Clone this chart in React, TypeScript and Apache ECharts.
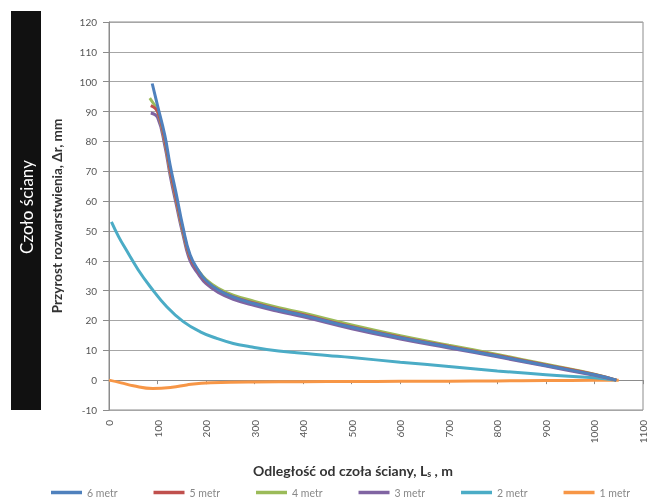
import React, { useEffect, useRef } from "react";
import * as echarts from "echarts";

const X_TICKS = { min: 0, max: 1100, interval: 100 };
const Y_TICKS = { min: -10, max: 120, interval: 10 };

const SERIES_NAMES = ["6 metr", "5 metr", "4 metr", "3 metr", "2 metr", "1 metr"];
const COLORS = ["#4F81BD", "#C0504D", "#9BBB59", "#8064A2", "#4BACC6", "#F79646"];

const X6 = [89, 100, 115, 126, 139, 152, 167, 185, 200, 225, 256, 300, 350, 400, 500, 600, 700, 800, 900, 1000, 1045];
const Y6 = [99.4, 92, 82, 72, 62, 51.5, 42, 36.5, 33.3, 30.2, 27.8, 25.6, 23.5, 21.7, 17.7, 14.2, 11.1, 8.1, 4.9, 1.8, 0];

const X5 = [86, 100, 115, 126, 139, 152, 167, 185, 200, 225, 256, 300, 350, 400, 500, 600, 700, 800, 900, 1000, 1045];
const Y5 = [92, 90, 80.5, 70.5, 60.5, 50.5, 41.3, 36.2, 33.1, 30.2, 27.9, 25.8, 23.7, 21.9, 17.9, 14.4, 11.3, 8.3, 5.1, 1.9, 0];

const X4 = [84, 100, 115, 126, 139, 152, 167, 185, 200, 225, 256, 300, 350, 400, 500, 600, 700, 800, 900, 1000, 1045];
const Y4 = [94.5, 90, 80, 70, 60, 50, 41.2, 36.5, 33.7, 30.8, 28.5, 26.4, 24.3, 22.5, 18.5, 14.9, 11.7, 8.6, 5.3, 2, 0];

const X3 = [86, 100, 115, 126, 139, 152, 167, 185, 200, 225, 256, 300, 350, 400, 500, 600, 700, 800, 900, 1000, 1045];
const Y3 = [89.5, 88, 78.5, 68.5, 58.5, 49, 40, 35.3, 32.3, 29.4, 27.1, 25, 23, 21.2, 17.2, 13.8, 10.8, 7.8, 4.7, 1.6, 0];

const X2 = [5, 20, 36, 60, 85, 119, 153, 188, 222, 256, 291, 325, 387, 450, 500, 600, 700, 800, 900, 1000, 1045];
const Y2 = [53, 48, 43.5, 37, 31.3, 24.6, 19.6, 16.2, 14, 12.3, 11.2, 10.3, 9.2, 8.3, 7.6, 6, 4.6, 3.1, 1.8, 0.8, 0];

const X1 = [0, 25, 50, 90, 130, 160, 190, 250, 300, 400, 500, 600, 700, 800, 900, 1000, 1050];
const Y1 = [0, -0.9, -1.9, -2.8, -2.4, -1.6, -1.0, -0.7, -0.6, -0.5, -0.45, -0.4, -0.35, -0.25, -0.15, -0.05, 0];

const XS = [X6, X5, X4, X3, X2, X1];
const YS = [Y6, Y5, Y4, Y3, Y2, Y1];

const FONT = "Lato, 'Open Sans', sans-serif";

export default function App() {
  const ref = useRef<HTMLDivElement>(null);

  useEffect(() => {
    if (!ref.current) return;
    const chart = echarts.init(ref.current, null, { renderer: "svg" });

    const series = SERIES_NAMES.map((name, i) => ({
      name,
      type: "line",
      xAxisIndex: 0,
      smooth: 0.45,
      showSymbol: false,
      symbol: "none",
      lineStyle: { width: 3, color: COLORS[i] },
      itemStyle: { color: COLORS[i] },
      data: XS[i].map((x, j) => [x, YS[i][j]]),
      z: 10 - i,
    }));

    chart.setOption({
      animation: false,
      textStyle: { fontFamily: FONT },
      grid: {
        left: 109,
        right: 7,
        top: 22,
        bottom: 91,
        show: true,
        borderColor: "#8c8c8c",
        borderWidth: 1,
        containLabel: false,
      },
      legend: {
        data: SERIES_NAMES,
        top: 487,
        left: 51,
        width: 640,
        itemGap: 36,
        itemWidth: 31,
        itemHeight: 3.5,
        icon: "rect",
        padding: 0,
        textStyle: { fontSize: 10.5, color: "#888", fontFamily: FONT },
      },
      xAxis: [
        {
          type: "value",
          min: X_TICKS.min,
          max: X_TICKS.max,
          interval: X_TICKS.interval,
          position: "bottom",
          axisLine: { show: false, onZero: false },
          axisTick: { show: false },
          splitLine: { show: false },
          axisLabel: {
            rotate: 90,
            margin: 10,
            fontSize: 10,
            color: "#555",
            fontFamily: FONT,
            formatter: (v: number) => String(v),
          },
          name: "Odległość od czoła ściany, L{sub|s} , m",
          nameLocation: "middle",
          nameGap: 52,
          nameTextStyle: {
            fontSize: 14,
            fontWeight: "bold",
            color: "#333",
            fontFamily: FONT,
            padding: [0, 46, 0, 0],
            rich: {
              sub: { fontSize: 9, fontWeight: "bold", color: "#333", verticalAlign: "bottom", padding: [7, 0, 0, 0] },
            },
          },
        },
        {
          type: "value",
          min: X_TICKS.min,
          max: X_TICKS.max,
          interval: X_TICKS.interval,
          position: "bottom",
          axisLine: { show: true, onZero: true, lineStyle: { color: "#8c8c8c" } },
          axisTick: { show: true, length: 4, lineStyle: { color: "#8c8c8c" } },
          axisLabel: { show: false },
          splitLine: { show: false },
        },
      ],
      yAxis: {
        type: "value",
        min: Y_TICKS.min,
        max: Y_TICKS.max,
        interval: Y_TICKS.interval,
        axisLine: { show: true, lineStyle: { color: "#8c8c8c" } },
        axisTick: { show: true, length: 6, lineStyle: { color: "#8c8c8c" } },
        axisLabel: { fontSize: 10, color: "#555", margin: 12, fontFamily: FONT },
        splitLine: { show: true, lineStyle: { color: "#a6a6a6", width: 1 } },
        name: "Przyrost rozwarstwienia, Δr, mm",
        nameLocation: "middle",
        nameGap: 45,
        nameTextStyle: { fontSize: 13.5, fontWeight: "bold", color: "#333", fontFamily: FONT },
      },
      graphic: [
        {
          type: "rect",
          left: 11,
          top: 11,
          shape: { width: 30, height: 399 },
          style: { fill: "#111" },
        },
        {
          type: "text",
          x: 26,
          y: 207,
          rotation: Math.PI / 2,
          style: {
            text: "Czoło ściany",
            fill: "#fff",
            fontSize: 17,
            fontFamily: FONT,
            align: "center",
            verticalAlign: "middle",
          },
        },
      ],
      series,
    });

    return () => chart.dispose();
  }, []);

  return (
    <div
      ref={ref}
      style={{ position: "fixed", left: 0, top: 0, width: 650, height: 501 }}
    />
  );
}
